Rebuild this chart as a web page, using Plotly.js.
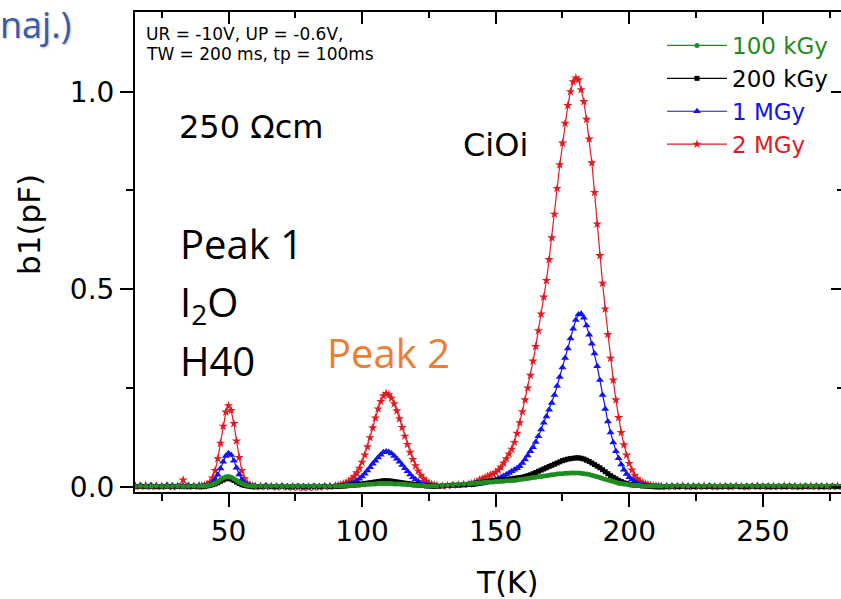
<!DOCTYPE html>
<html>
<head>
<meta charset="utf-8">
<script src="https://cdn.plot.ly/plotly-3.0.1.min.js"></script>
<style>
  html, body { margin: 0; padding: 0; overflow: hidden; background: #ffffff; }
  #chart { width: 850px; height: 599px; }
</style>
</head>
<body>
<div id="chart"></div>
<script>
// DLTS spectra b1(T) after irradiation at four fluences.
// Shared temperature grid (K): coarser on flat baseline stretches, 1 K steps over the peaks.
const temperatureK = [
  15,17,19,21,23,25,27,29,31,33,35,37,39,
  40,41,42,43,44,45,46,47,48,49,50,51,52,53,54,55,56,57,58,59,60,
  62,64,66,68,70,72,74,76,78,80,82,84,86,88,90,
  91,92,93,94,95,96,97,98,99,100,101,102,103,104,105,106,107,108,109,110,
  111,112,113,114,115,116,117,118,119,120,121,122,123,124,125,126,127,128,
  130,132,134,136,138,140,
  141,142,143,144,145,146,147,148,149,150,
  151,152,153,154,155,156,157,158,159,160,
  161,162,163,164,165,166,167,168,169,170,
  171,172,173,174,175,176,177,178,179,180,
  181,182,183,184,185,186,187,188,189,190,
  191,192,193,194,195,196,197,198,199,200,
  201,202,203,204,205,206,207,208,209,210,
  211,212,
  214,216,218,220,222,224,226,228,230,232,234,236,238,240,242,244,246,248,250,
  252,254,256,258,260,262,264,266,268,270,272,274,276,278,280
];

// b1 (pF), 100 kGy
const b1_100kGy = [
  0.001,0.002,0.001,0.002,0.002,0.001,0.002,0.001,0.002,0.001,0.002,0.002,0.001,
  0.002,0.002,0.003,0.004,0.006,0.009,0.013,0.018,0.022,0.025,0.026,0.024,0.020,0.016,0.011,0.008,0.005,0.003,0.002,0.002,0.001,
  0.002,0.001,0.002,0.002,0.001,0.002,0.001,0.002,0.002,0.001,0.002,0.002,0.001,0.002,0.002,
  0.002,0.002,0.002,0.003,0.003,0.003,0.004,0.004,0.004,0.005,0.005,0.006,0.006,0.007,0.007,0.008,0.008,0.008,0.008,0.008,
  0.008,0.007,0.007,0.007,0.006,0.006,0.005,0.005,0.004,0.004,0.003,0.003,0.003,0.002,0.002,0.002,0.002,0.002,
  0.003,0.004,0.005,0.006,0.007,0.008,
  0.008,0.009,0.009,0.010,0.010,0.011,0.011,0.012,0.012,0.013,
  0.013,0.014,0.014,0.015,0.015,0.016,0.016,0.017,0.018,0.019,
  0.020,0.021,0.022,0.023,0.024,0.025,0.026,0.027,0.028,0.029,
  0.030,0.031,0.032,0.033,0.033,0.034,0.034,0.035,0.035,0.035,
  0.035,0.034,0.033,0.032,0.031,0.029,0.027,0.025,0.023,0.021,
  0.019,0.017,0.015,0.013,0.011,0.009,0.008,0.007,0.006,0.005,
  0.004,0.004,0.003,0.003,0.002,0.002,0.002,0.002,0.002,0.002,
  0.002,0.002,
  0.002,0.002,0.003,0.002,0.002,0.003,0.002,0.002,0.003,0.002,0.002,0.002,0.003,0.002,0.002,0.003,0.002,0.002,0.002,
  0.003,0.002,0.002,0.003,0.002,0.002,0.002,0.003,0.002,0.002,0.003,0.002,0.002,0.002,0.003
];

// b1 (pF), 200 kGy
const b1_200kGy = [
  0.000,0.001,0.000,0.001,0.000,0.000,0.001,0.000,0.001,0.000,0.000,0.001,0.000,
  0.000,0.001,0.002,0.003,0.005,0.007,0.010,0.014,0.017,0.020,0.021,0.019,0.016,0.012,0.008,0.005,0.003,0.002,0.001,0.000,0.000,
  0.000,0.001,0.000,0.000,0.001,0.000,0.000,0.001,0.000,0.000,0.001,0.000,0.001,0.000,0.001,
  0.001,0.001,0.002,0.002,0.003,0.004,0.004,0.005,0.006,0.007,0.008,0.009,0.010,0.011,0.012,0.013,0.014,0.015,0.015,0.015,
  0.014,0.013,0.012,0.011,0.010,0.009,0.008,0.007,0.006,0.005,0.004,0.003,0.003,0.002,0.002,0.001,0.001,0.001,
  0.002,0.003,0.004,0.004,0.005,0.006,
  0.007,0.008,0.009,0.010,0.011,0.012,0.013,0.014,0.015,0.016,
  0.017,0.017,0.018,0.018,0.019,0.020,0.021,0.022,0.023,0.024,
  0.026,0.028,0.030,0.033,0.036,0.039,0.042,0.045,0.048,0.051,
  0.054,0.057,0.060,0.063,0.066,0.068,0.070,0.071,0.072,0.073,
  0.073,0.072,0.070,0.067,0.064,0.060,0.056,0.052,0.048,0.043,
  0.038,0.033,0.028,0.024,0.020,0.016,0.013,0.010,0.008,0.006,
  0.005,0.004,0.003,0.003,0.002,0.002,0.001,0.001,0.001,0.000,
  0.001,0.000,
  0.000,0.001,0.000,0.001,0.000,0.000,0.001,0.000,0.001,0.000,0.000,0.001,0.000,0.001,0.000,0.000,0.001,0.000,0.001,
  0.000,0.000,0.001,0.000,0.001,0.000,0.000,0.001,0.000,0.001,0.000,0.000,0.001,0.000,0.001
];

// b1 (pF), 1 MGy
const b1_1MGy = [
  0.003,0.004,0.002,0.004,0.003,0.002,0.004,0.003,0.002,0.003,0.004,0.002,0.003,
  0.002,0.002,0.003,0.005,0.010,0.018,0.030,0.046,0.063,0.078,0.085,0.080,0.066,0.048,0.031,0.018,0.009,0.005,0.003,0.002,0.002,
  0.002,0.003,0.001,0.002,0.002,0.001,0.002,0.001,0.002,0.001,0.002,0.001,0.002,0.002,0.002,
  0.002,0.002,0.003,0.004,0.006,0.008,0.011,0.015,0.020,0.026,0.033,0.041,0.049,0.058,0.066,0.074,0.081,0.087,0.089,0.088,
  0.084,0.078,0.071,0.063,0.055,0.047,0.039,0.031,0.024,0.018,0.013,0.009,0.006,0.004,0.003,0.002,0.002,0.001,
  0.002,0.002,0.003,0.003,0.003,0.004,
  0.004,0.005,0.006,0.007,0.008,0.010,0.012,0.014,0.016,0.018,
  0.021,0.024,0.027,0.031,0.035,0.039,0.043,0.047,0.052,0.060,
  0.069,0.079,0.090,0.100,0.113,0.128,0.145,0.162,0.178,0.195,
  0.212,0.232,0.255,0.278,0.302,0.326,0.350,0.375,0.400,0.422,
  0.436,0.438,0.428,0.408,0.385,0.362,0.337,0.305,0.270,0.232,
  0.197,0.165,0.137,0.112,0.090,0.072,0.056,0.043,0.032,0.024,
  0.018,0.013,0.009,0.006,0.004,0.003,0.002,0.002,0.001,0.002,
  0.001,0.001,
  0.001,0.002,0.001,0.000,0.002,0.001,0.001,0.000,0.002,0.001,0.000,0.001,0.002,0.001,0.000,0.001,0.001,0.002,0.000,
  0.001,0.001,0.000,0.001,0.002,0.001,0.000,0.001,0.001,0.002,0.000,0.001,0.001,0.000,0.001
];

// b1 (pF), 2 MGy
const b1_2MGy = [
  0.002,0.001,0.003,0.000,0.002,0.001,0.002,0.000,0.001,0.017,0.002,0.001,0.002,
  0.002,0.003,0.006,0.011,0.022,0.041,0.071,0.110,0.153,0.189,0.205,0.193,0.160,0.116,0.074,0.041,0.020,0.009,0.004,0.002,0.001,
  0.001,0.000,0.001,-0.001,0.000,-0.001,-0.002,-0.002,-0.003,-0.002,-0.002,-0.001,0.000,0.001,0.002,
  0.003,0.005,0.007,0.010,0.014,0.019,0.026,0.035,0.047,0.062,0.080,0.101,0.124,0.149,0.174,0.197,0.216,0.230,0.236,0.233,
  0.224,0.210,0.192,0.172,0.150,0.128,0.107,0.087,0.069,0.053,0.040,0.029,0.020,0.014,0.009,0.006,0.004,0.003,
  0.002,0.003,0.004,0.005,0.006,0.007,
  0.008,0.010,0.013,0.017,0.020,0.023,0.026,0.029,0.032,0.036,
  0.042,0.050,0.060,0.071,0.083,0.095,0.112,0.135,0.162,0.190,
  0.220,0.250,0.282,0.318,0.355,0.395,0.437,0.480,0.522,0.575,
  0.630,0.690,0.755,0.815,0.870,0.920,0.965,1.000,1.025,1.035,
  1.030,1.005,0.975,0.930,0.880,0.820,0.745,0.665,0.585,0.515,
  0.450,0.385,0.325,0.270,0.220,0.175,0.137,0.106,0.080,0.059,
  0.042,0.029,0.020,0.014,0.010,0.007,0.005,0.003,0.002,0.001,
  0.001,0.000,
  0.001,0.000,0.001,0.002,0.000,0.001,0.000,0.002,0.001,0.000,0.001,0.001,0.000,0.002,0.001,0.000,0.001,0.002,0.001,
  0.000,0.001,0.000,0.002,0.001,0.001,0.000,0.001,0.002,0.000,0.001,0.001,0.000,0.002,0.001
];

const seriesNames   = ['100 kGy', '200 kGy', '1 MGy', '2 MGy'];
const seriesValues  = [b1_100kGy, b1_200kGy, b1_1MGy, b1_2MGy];
const seriesColors  = ['#1f8c1f', '#000000', '#1212f2', '#e01b22'];
const seriesSymbols = ['circle', 'square', 'triangle-up', 'star'];
const seriesSizes   = [5, 5, 7, 7];

const xMajorTicks = [50, 100, 150, 200, 250];
const xMinorTicks = [25, 75, 125, 175, 225, 275];
const yMajorTicks = [0, 0.5, 1.0];
const yMajorText  = ['0.0', '0.5', '1.0'];
const yMinorTicks = [0.25, 0.75];

seriesValues.forEach((v, i) => {
  if (v.length !== temperatureK.length) {
    throw new Error(seriesNames[i] + ': ' + v.length + ' values for ' + temperatureK.length + ' temperatures');
  }
});

// Page geometry in pixels; helpers turn pixel positions into paper fractions.
const W = 850, H = 599;
const M = { l: 135, r: 7, t: 12, b: 107 };
const fx = px => (px - M.l) / (W - M.l - M.r);
const fy = py => (H - M.b - py) / (H - M.t - M.b);

// Draw order: 2 MGy first, 100 kGy last (on top); the legend lists them in reverse.
const drawOrder = [3, 2, 1, 0];
const traces = drawOrder.map(i => ({
  type: 'scatter',
  mode: 'lines+markers',
  x: temperatureK,
  y: seriesValues[i],
  name: '<span style="color:' + seriesColors[i] + '">' + seriesNames[i] + '</span>',
  line: { color: seriesColors[i], width: 1.2 },
  marker: { color: seriesColors[i], symbol: seriesSymbols[i], size: seriesSizes[i], line: { width: 0 } },
  hoverinfo: 'x+y+name'
}));

// Carrier for the mirrored top / right axes (inward ticks); holds no points.
traces.push({
  type: 'scatter', mode: 'markers', x: [], y: [],
  xaxis: 'x2', yaxis: 'y2', showlegend: false, hoverinfo: 'skip'
});

const SANS = 'DejaVu Sans, Liberation Sans, Arial, sans-serif';
const SLIDE = 'Open Sans, Noto Sans, sans-serif';

const axisCommon = {
  showgrid: false, zeroline: false,
  linecolor: '#000000', linewidth: 2,
  tickcolor: '#000000', tickwidth: 2
};

const layout = {
  width: W, height: H,
  margin: M,
  paper_bgcolor: '#ffffff', plot_bgcolor: '#ffffff',
  font: { family: SANS, color: '#000000' },
  showlegend: true,
  legend: {
    x: fx(662), xanchor: 'left',
    y: fy(24), yanchor: 'top',
    bgcolor: 'rgba(0,0,0,0)', borderwidth: 0,
    font: { family: SANS, size: 23 },
    itemwidth: 60, traceorder: 'reversed'
  },
  xaxis: Object.assign({}, axisCommon, {
    range: [15, 280], showline: true, mirror: true,
    tickmode: 'array', tickvals: xMajorTicks, ticktext: xMajorTicks.map(String),
    ticks: 'outside', ticklen: 13,
    tickfont: { family: SANS, size: 28 },
    minor: { tickmode: 'array', tickvals: xMinorTicks, ticks: 'outside', ticklen: 7, tickwidth: 2, tickcolor: '#000000' }
  }),
  xaxis2: Object.assign({}, axisCommon, {
    overlaying: 'x', side: 'top', anchor: 'y2',
    range: [15, 280], showline: false,
    tickmode: 'array', tickvals: xMajorTicks,
    ticks: 'inside', ticklen: 12, showticklabels: false,
    minor: { tickmode: 'array', tickvals: xMinorTicks, ticks: 'inside', ticklen: 6, tickwidth: 2, tickcolor: '#000000' }
  }),
  yaxis: Object.assign({}, axisCommon, {
    range: [-0.0134, 1.2018], showline: true, mirror: true,
    tickmode: 'array', tickvals: yMajorTicks, ticktext: yMajorText,
    ticks: 'outside', ticklen: 13,
    tickfont: { family: SANS, size: 28 },
    minor: { tickmode: 'array', tickvals: yMinorTicks, ticks: 'outside', ticklen: 7, tickwidth: 2, tickcolor: '#000000' }
  }),
  yaxis2: Object.assign({}, axisCommon, {
    overlaying: 'y', side: 'right', anchor: 'x2',
    range: [-0.0134, 1.2018], showline: false,
    tickmode: 'array', tickvals: yMajorTicks,
    ticks: 'inside', ticklen: 12, showticklabels: false,
    minor: { tickmode: 'array', tickvals: yMinorTicks, ticks: 'inside', ticklen: 6, tickwidth: 2, tickcolor: '#000000' }
  }),
  annotations: [
    { text: 'naj.)', x: fx(73), xanchor: 'right', y: fy(24), yanchor: 'middle',
      font: { family: SLIDE, size: 36, color: '#3a5ba6', shadow: '1px 1px 2px rgba(0,0,0,0.25)' } },
    { text: 'UR = -10V, UP = -0.6V,', x: fx(144), xanchor: 'left', y: fy(34), yanchor: 'middle',
      font: { family: SANS, size: 17 } },
    { text: 'TW = 200 ms, tp = 100ms', x: fx(144), xanchor: 'left', y: fy(54.5), yanchor: 'middle',
      font: { family: SANS, size: 17 } },
    { text: '250 \u03A9cm', x: fx(177), xanchor: 'left', y: fy(126.5), yanchor: 'middle',
      font: { family: SANS, size: 32 } },
    { text: 'CiOi', x: fx(461), xanchor: 'left', y: fy(145), yanchor: 'middle',
      font: { family: SANS, size: 32 } },
    { text: 'Peak 1', x: fx(178), xanchor: 'left', y: fy(244), yanchor: 'middle',
      font: { family: SLIDE, size: 40 } },
    { text: 'I<sub>2</sub>O', x: fx(178), xanchor: 'left', y: fy(303), yanchor: 'middle',
      font: { family: SLIDE, size: 40 } },
    { text: 'H40', x: fx(178), xanchor: 'left', y: fy(360), yanchor: 'middle',
      font: { family: SLIDE, size: 40 } },
    { text: 'Peak 2', x: fx(325), xanchor: 'left', y: fy(352.5), yanchor: 'middle',
      font: { family: SLIDE, size: 40, color: '#ed7d31' } },
    { text: 'T(K)', x: fx(507), xanchor: 'center', y: fy(582), yanchor: 'middle',
      font: { family: SANS, size: 30 } },
    { text: 'b1(pF)', x: fx(29), xanchor: 'center', y: fy(225), yanchor: 'middle', textangle: -90,
      font: { family: SANS, size: 31 } }
  ].map(a => Object.assign({ xref: 'paper', yref: 'paper', showarrow: false }, a))
};

Plotly.newPlot('chart', traces, layout, { displayModeBar: false, staticPlot: true });
</script>
</body>
</html>
